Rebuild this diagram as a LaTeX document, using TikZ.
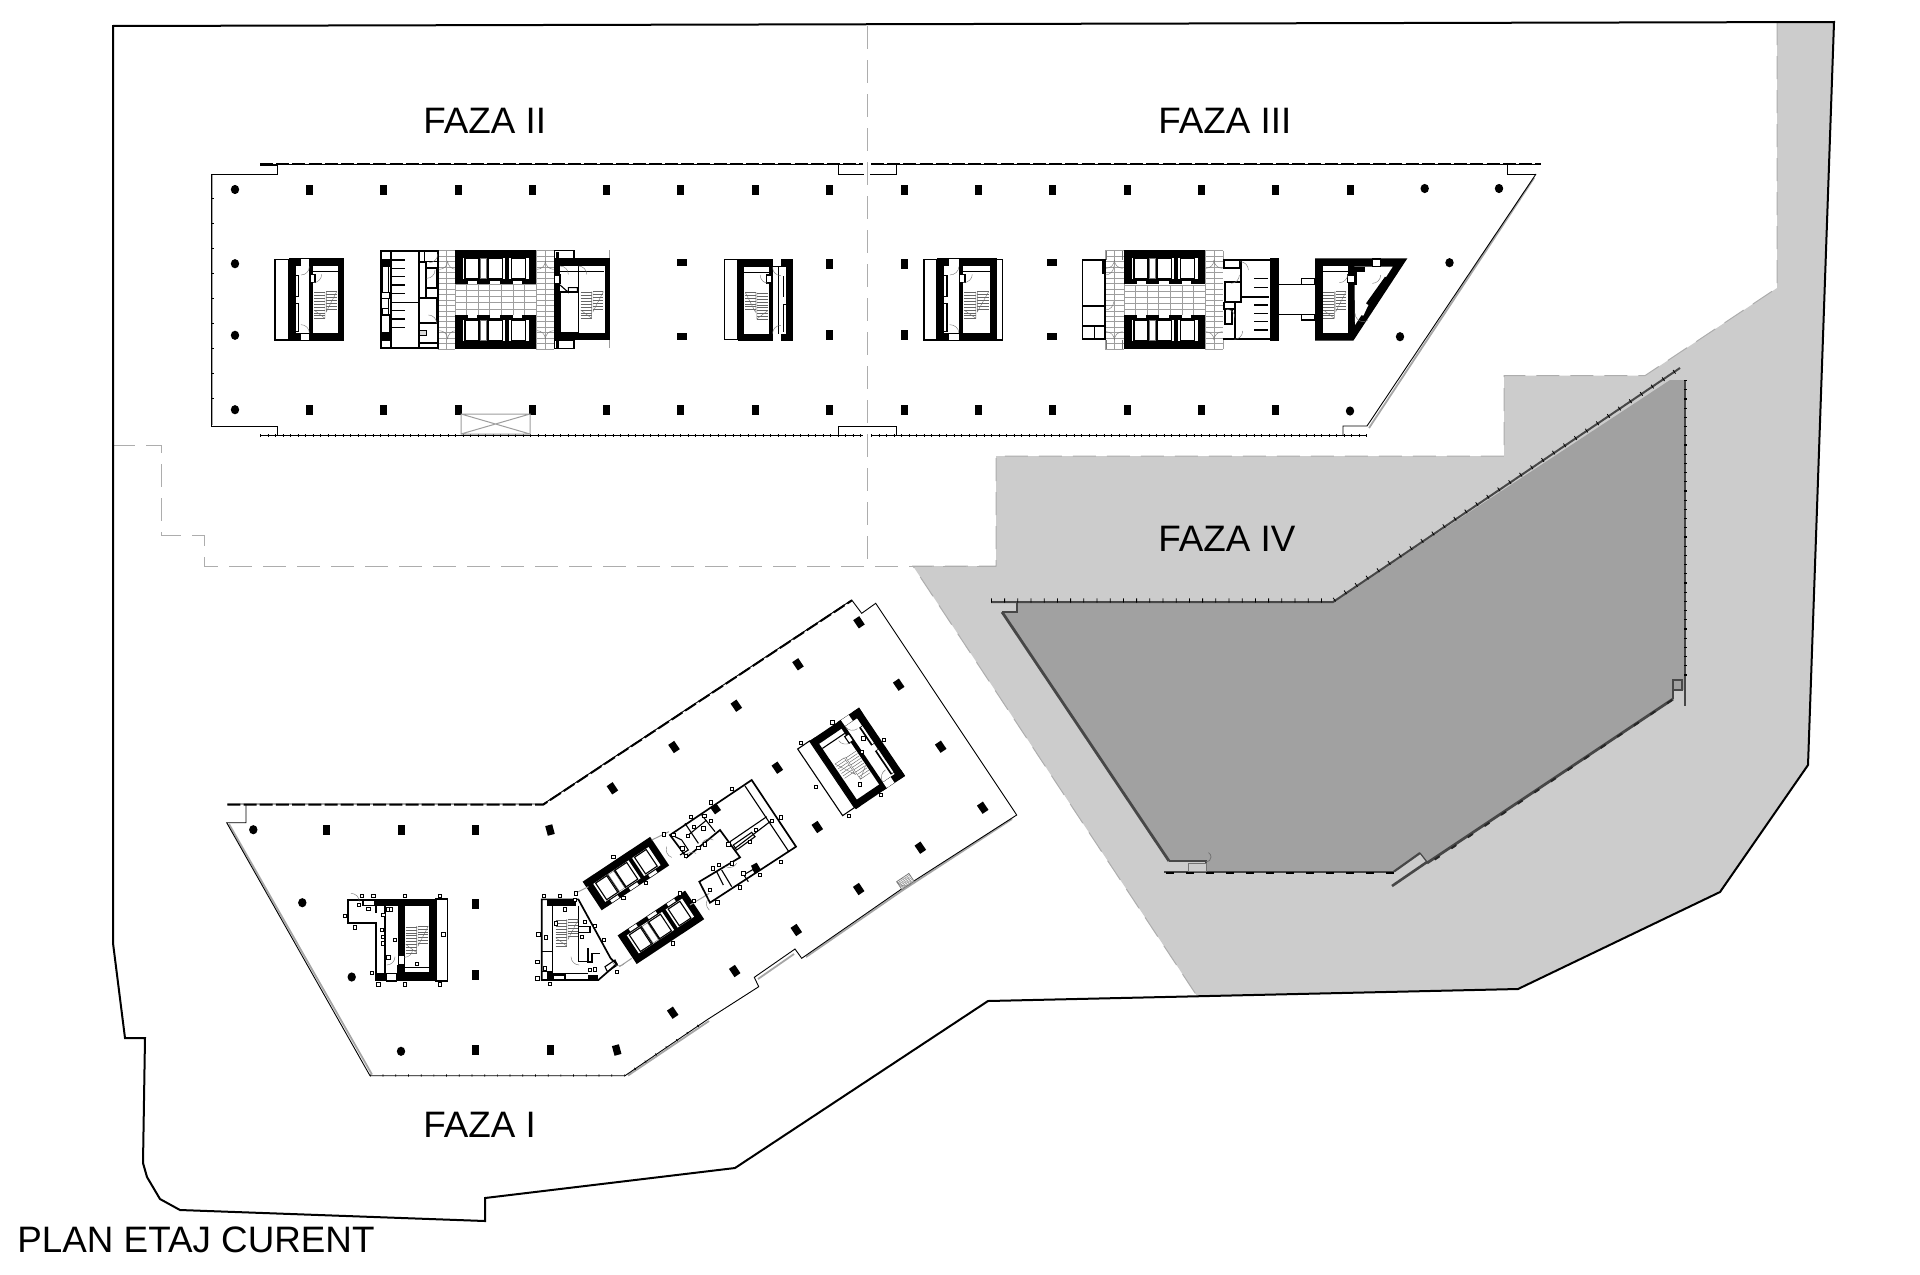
\documentclass[tikz,border=0pt]{standalone}
\usepackage{fontspec}
\setmainfont{Liberation Sans}
\definecolor{lightzone}{HTML}{CCCCCC}
\definecolor{darkzone}{HTML}{A1A1A1}
\definecolor{dashgrey}{HTML}{ADADAD}
\tikzset{
  zu/.style={x=.16667pt,y=-.16667pt},
  site/.style={draw=black,line width=1pt,line join=miter},
  zoneline/.style={draw=dashgrey,line width=.5pt,dash pattern=on 11.5pt off 5.5pt},
  shell/.style={draw=black,line width=.45pt},
  shellshadow/.style={draw=black!35,line width=.9pt},
  glazing/.style={draw=black,line width=1.1pt,dash pattern=on 6.5pt off 1.6pt},
  ticks/.style={draw=black,line width=1.7pt,dash pattern=on .35pt off 3.4pt},
  darkwall/.style={draw=black!72,line width=1.1pt},
  darkticks/.style={draw=black,line width=2pt,dash pattern=on .35pt off 8pt},
  wl/.style={draw=black,line width=.55pt},
  wlt/.style={draw=black,line width=.85pt},
  gl/.style={draw=black!38,line width=.28pt},
  door/.style={draw=black!55,line width=.2pt},
  tread/.style={draw=black!60,line width=.22pt},
  faza/.style={font=\fontsize{18.4pt}{20pt}\selectfont,inner sep=0pt,anchor=base west,text=black},
  tagbox/.style={draw=black,line width=.25pt,fill=white},
}
\newcommand{\blk}[4]{\fill[black] (#1,#2) rectangle (#3,#4);}
\newcommand{\wht}[4]{\fill[white] (#1,#2) rectangle (#3,#4);}
\newcommand{\rct}[4]{\draw[wl] (#1,#2) rectangle (#3,#4);}
\newcommand{\colR}[2]{\fill[black] (#1-3.5,#2-5) rectangle (#1+3.5,#2+5);}
\newcommand{\colS}[2]{\fill[black] (#1-5,#2-3.6) rectangle (#1+5,#2+3.6);}
\newcommand{\colC}[2]{\fill[black] (#1,#2) ellipse [x radius=4.2,y radius=4.6];}
\newcommand{\colT}[3]{\fill[black,shift={(#1,#2)},rotate=#3] (-3.6,-5) rectangle (3.6,5);}
\newcommand{\dr}[4]{\draw[door] (#1,#2) arc[start angle=#3,end angle=#4,radius=25];}
% stair flights, in core coordinates
\newcommand{\flights}{%
  \foreach \k in {0,...,9}{\pgfmathsetmacro\yy{103+\k*8.6}\draw[tread] (75,\yy)--(108,\yy);}
  \foreach \k in {0,...,6}{\pgfmathsetmacro\yy{100+\k*8.6}\draw[tread] (112,\yy)--(143,\yy);}
  \draw[door] (108,100)--(108,180)--(75,155);
  \draw[door] (112,100)--(112,160)--(143,100);
}
% stair core, 165 x 247 units, corridor at the low x side
\newcommand{\stcore}{%
  \blk{0}{0}{165}{23}\blk{0}{225}{165}{247}\blk{0}{0}{21}{247}\blk{148}{0}{165}{247}\blk{61}{0}{73}{247}
  \wht{35}{1}{61}{22}\wht{35}{226}{61}{246}
  \blk{21}{50}{31}{115}\blk{21}{135}{31}{220}
  \wht{21}{52}{26}{113}\wht{21}{137}{26}{218}
  \draw[wl] (73,40)--(148,40);
  \draw[wl,fill=white] (64,48) rectangle (78,72);
  \dr{61}{25}{0}{90}\dr{61}{224}{0}{-90}\dr{98}{48}{0}{90}
  \flights
}
% lift bank, 243 x 103 units, doors at the high y side
\newcommand{\liftbank}{%
  \blk{0}{0}{243}{103}
  \wht{23}{23}{150}{88}\wht{163}{23}{222}{88}
  \draw[wl] (30,25) rectangle (70,85);
  \draw[door] (76,25) rectangle (95,85);
  \draw[wl] (100,25) rectangle (142,85);
  \draw[wl] (170,25) rectangle (212,85);
  \blk{72}{23}{75}{88}\blk{96}{23}{99}{88}
  \wht{38}{92}{65}{101}\wht{105}{92}{135}{101}\wht{175}{92}{202}{101}
}
% grid of the lift lobby
\newcommand{\lobby}[8]{%
  \foreach \k in {0,...,18}{\pgfmathsetmacro\yy{#5+\k*16.4}\draw[gl] (#1,\yy)--(#2,\yy);\draw[gl] (#3,\yy)--(#4,\yy);}
  \foreach \k in {0,...,5}{\pgfmathsetmacro\yy{#6+\k*(#7-#6)/5}\draw[gl] (#2,\yy)--(#3,\yy);}
  \foreach \k in {1,...,6}{\pgfmathsetmacro\xx{#2+\k*(#3-#2)/7}\draw[gl] (\xx,#6)--(\xx,#7);}
  \foreach \xx in {#1,#2,#3,#4}{\draw[gl] (\xx,#5)--(\xx,#8);}
  \pgfmathsetmacro\xa{(#1+#2)/2}\pgfmathsetmacro\xb{(#3+#4)/2}
  \draw[gl] (\xa,#5)--(\xa,#8);\draw[gl] (\xb,#5)--(\xb,#8);
}
\begin{document}
\begin{tikzpicture}[x=.5pt,y=-.5pt]
\useasboundingbox (0,0) rectangle (1920,1274);
\fill[white] (0,0) rectangle (1920,1274);
% phase IV zones
\coordinate (s1) at (1834,22);\coordinate (s2) at (1808,765);\coordinate (s3) at (1720,892);\coordinate (s4) at (1518,989);\coordinate (s5) at (988,1001);
\coordinate (g1) at (1777,22);\coordinate (g2) at (1777,288);\coordinate (g3) at (1645,375.6);\coordinate (g4) at (1504,375.6);\coordinate (g5) at (1504,456);\coordinate (g6) at (996,456);\coordinate (g7) at (996,566);\coordinate (g8) at (913,566);\coordinate (g9) at (1197,996);
\fill[lightzone] (g1)--(s1)--(s2)--(s3)--(s4)--(g9)--(g8)--(g7)--(g6)--(g5)--(g4)--(g3)--(g2)--cycle;
\draw[zoneline] (g1)--(g2)--(g3)--(g4)--(g5)--(g6)--(g7)--(g8)--(g9);
\coordinate (d1) at (1002,612);\coordinate (d2) at (1017,612);\coordinate (d3) at (1017,602);\coordinate (d4) at (1333,602);\coordinate (d5) at (1670,380);\coordinate (d6) at (1685,380);\coordinate (d7) at (1685,690);\coordinate (d8) at (1673,690);\coordinate (d9) at (1673,699);\coordinate (d10) at (1427,863);\coordinate (d11) at (1420,853);\coordinate (d12) at (1394,871.5);\coordinate (d13) at (1206,871.5);\coordinate (d14) at (1206,861);\coordinate (d15) at (1169,861);
\fill[darkzone] (d1)--(d2)--(d3)--(d4)--(d5)--(d6)--(d7)--(d8)--(d9)--(d10)--(d11)--(d12)--(d13)--(d14)--(d15)--cycle;
\draw[darkwall] (d1)--(d2)--(d3);
\draw[darkwall,line width=1pt] (991,602)--(d4)--(1680,368);
\draw[darkticks,dash pattern=on .4pt off 6.2pt,line width=2.2pt] (991,600.5)--(1333,600.5)--(1678.5,369);
\draw[darkwall,line width=1pt] (1685,380)--(1685,706);
\draw[draw=black,line width=1.5pt,dash pattern=on .6pt off 4pt] (1685,380)--(1685,680);
\draw[darkwall] (1673,680) rectangle (1682,690);
\draw[darkwall] (1673,699)--(1673,690)--(1682,690);
\draw[darkwall,line width=1.4pt] (d1)--(d15);
\draw[darkwall] (d15)--(d14)--(1206,866);
\draw[darkwall,line width=1.4pt] (d9)--(d10);
\draw[draw=black!85,line width=1pt,dash pattern=on 3pt off 7pt] (1672,700)--(1428,864);
\draw[darkwall,line width=1.3pt] (1392,886)--(1427,862);
\draw[darkwall] (1394,871.5)--(1420,853);
\draw[darkwall,line width=.6pt] (1420,853)--(1427,862);
\draw[darkwall,line width=1.4pt] (1164,872)--(1394,872);
\draw[draw=black,line width=1.4pt,dash pattern=on 4pt off 6pt] (1166,873)--(1394,873);
\draw[door,line width=.5pt,fill=lightzone] (1188.5,863) rectangle (1206,871);
\draw[door,line width=.4pt] (1206,862) arc[start angle=90,end angle=-60,radius=5];
% phases divider and FAZA II dashed limit
\coordinate (v1) at (867.5,26);\coordinate (v2) at (867.5,566);
\draw[zoneline] (v1)--(v2);
\coordinate (w1) at (112,445);\coordinate (w2) at (161,445);\coordinate (w3) at (161,535);\coordinate (w4) at (204,535);\coordinate (w5) at (204,566);
\draw[zoneline] (w1)--(w2)--(w3)--(w4)--(w5)--(g7);
% site outline
\draw[site] (s1)--(s2)--(s3)--(s4)--(s5)--(735,1168)--(485,1198)--(485,1221)--(180,1210)--(160,1199)--(147,1177)--(143,1163)--(145,1038)--(125,1038)--(113,943)--(113,26)--cycle;
% ---------- FAZA II / III shell ----------
\draw[shellshadow] (212,175)--(212,425);
\draw[shell] (260,165)--(277,165);
\draw[shell] (277,165)--(277,174)--(211,174)--(211,426)--(277,426)--(277,435);
\foreach \yy in {198,223,248,273,298,323,348,373,398}{\draw[line width=.5pt] (211,\yy)--(214,\yy);}
\draw[shell] (260,164.3)--(863,164.3) (871,164.3)--(1541,164.3);
\draw[glazing] (260,164.3)--(863,164.3) (871,164.3)--(1541,164.3);
\draw[shell] (260,435.3)--(863,435.3) (871,435.3)--(1367,435.3);
\draw[ticks] (260,435.3)--(863,435.3) (871,435.3)--(1367,435.3);
\draw[shell] (838,165)--(838,174)--(864,174) (870,174)--(896,174)--(896,165);
\draw[shell] (838,435)--(838,426)--(896,426)--(896,435);
\draw[shell] (1507,165)--(1507,174)--(1536,174);
\draw[shellshadow] (1534,178)--(1369,428);
\draw[shell] (1536,174)--(1367,426)--(1343,426)--(1343,435);
% columns
\foreach \xx in {309.4,383.5,458,532.6,606.7,680.8,755,829.5,904,978.5,1052.8,1127,1201.6,1275.5,1350}{\colR{\xx}{189.7}}
\foreach \xx in {309.4,383.5,458,532.6,606.7,680.8,755,829.5,904,978.5,1052.8,1127,1201.6,1275.5}{\colR{\xx}{409.7}}
\colC{235}{189.5}\colC{235}{263.7}\colC{235}{335.3}\colC{235}{409.7}
\colC{1424.7}{188.5}\colC{1499}{188.5}\colC{1449.5}{262.7}\colC{1400}{336.7}\colC{1350}{411}
\colS{682}{262.7}\colS{682}{336.7}\colS{1051.5}{262.7}\colS{1051.5}{336.7}
\colR{829.5}{264}\colR{829.5}{335}\colR{904}{263.7}\colR{904}{335}
% void
\draw[gl,line width=.5pt] (461,414) rectangle (530,434) (461,414)--(530,434) (461,434)--(530,414);
% ---------- FAZA II cores (3x crop units) ----------
\begin{scope}[shift={(270,245)},zu]
  \rct{15}{43}{57}{285}
  \begin{scope}[shift={(57,40)}]\stcore\end{scope}
  % central core
  \lobby{503}{555}{798}{853}{17}{118}{210}{312}
  \dr{533}{48}{180}{90}\dr{533}{48}{0}{90}
  \dr{533}{282}{180}{270}\dr{533}{282}{0}{-90}
  \dr{826}{48}{180}{90}\dr{826}{48}{0}{90}
  \dr{826}{282}{180}{270}\dr{826}{282}{0}{-90}
  \begin{scope}[shift={(555,15)}]\liftbank\end{scope}
  \begin{scope}[shift={(555,312)},yscale=-1]\liftbank\end{scope}
  \fill[white] (333,17) rectangle (503,310);
  \draw[wlt] (333,17) rectangle (503,310);
  \draw[wl] (363,17)--(363,310);
  \blk{333}{42}{360}{65}\blk{333}{265}{360}{287}
  \rct{338}{65}{355}{142}\rct{333}{142}{360}{160}\rct{333}{160}{355}{190}\rct{338}{190}{355}{210}\rct{333}{210}{360}{262}
  \foreach \yy in {45,70,95,120,145,197,222,247}{\draw[wl] (363,\yy)--(405,\yy);}
  \draw[wl] (363,172)--(447,172);
  \draw[wl] (447,17)--(447,157);
  \draw[wlt] (447,52)--(468,52) (468,52)--(468,128) (468,70)--(500,70)--(500,128)--(468,128)--(468,157);
  \rct{463}{17}{503}{50}
  \dr{503}{28}{0}{90}\dr{495}{75}{0}{90}
  \draw[wlt] (447,160) rectangle (500,233);
  \draw[draw=black,line width=.3pt,fill=black!15] (447,255) rectangle (470,270);
  \dr{500}{235}{0}{-90}
  \rct{447}{293}{503}{310}\draw[wlt] (447,295)--(503,295);
  \draw[wl] (447,233)--(447,310);
  % east core
  \rct{853}{17}{912}{40}\rct{853}{285}{912}{310}
  \blk{858}{20}{868}{40}\blk{858}{288}{868}{308}
  \draw[gl,line width=.5pt] (1018,15)--(1018,310);
  \blk{853}{40}{1020}{63}\blk{853}{265}{1020}{285}\blk{853}{40}{870}{285}\blk{1005}{40}{1020}{285}
  \draw[wl] (870,80)--(1003,80);\draw[wl] (925,63)--(925,265);
  \draw[wlt] (870,142) rectangle (925,265);
  \draw[wl,fill=white] (853,90) rectangle (870,115);
  \draw[wl] (870,120)--(895,142)--(895,128)--(922,128)--(922,142);
  \dr{895}{88}{0}{-90}\dr{950}{88}{0}{-90}
  \begin{scope}[shift={(857,40)}]\flights\end{scope}
\end{scope}
% FAZA II east core (same scale, placed directly)
\begin{scope}[shift={(724.5,259.3)},zu]
  \rct{0}{0}{40}{240}\rct{161}{0}{205}{240}
  \begin{scope}[shift={(205,-1)},xscale=-1]\stcore\end{scope}
\end{scope}
% ---------- FAZA III cores ----------
\begin{scope}[shift={(920,245)},zu]
  \rct{12}{43}{50}{285}\rct{230}{43}{247}{285}
  \begin{scope}[shift={(50,40)},xscale=1.09]\stcore\end{scope}
  \lobby{555}{612}{855}{910}{17}{120}{210}{312}
  \dr{583}{45}{180}{90}\dr{583}{45}{0}{90}\dr{583}{285}{180}{270}\dr{583}{285}{0}{-90}
  \dr{882}{45}{180}{90}\dr{882}{45}{0}{90}\dr{882}{285}{180}{270}\dr{882}{285}{0}{-90}
  \draw[door] (558,17)--(558,45) (608,17)--(608,45) (558,285)--(558,312) (608,285)--(608,312);
  \begin{scope}[shift={(612,15)}]\liftbank\end{scope}
  \begin{scope}[shift={(612,312)},yscale=-1]\liftbank\end{scope}
  \draw[wlt,fill=white] (487,45) rectangle (555,283);
  \draw[wl] (490,183)--(555,183) (490,243)--(555,243) (523,243)--(523,283);
  \draw[wlt] (548,50) rectangle (555,85);
  \dr{556}{90}{90}{0}\dr{556}{195}{90}{0}
  % east service
  \fill[white] (910,45) rectangle (1050,283);
  \draw[wlt] (910,45)--(1050,45) (910,283)--(1050,283);
  \blk{1050}{40}{1078}{287}
  \draw[draw=white,line width=.5pt] (1047,60)--(1047,270);
  \draw[wlt] (912,45)--(912,68)--(960,68)--(960,45);
  \draw[wlt,fill=white] (915,112) rectangle (962,172);
  \draw[wlt] (962,45)--(962,155)--(1048,155) (945,178)--(945,283);
  \rct{912}{172}{945}{192}\draw[wlt] (915,192) rectangle (935,238);
  \foreach \yy in {100,128,180,205,230,255}{\draw[wl] (1003,\yy)--(1045,\yy);}
  \dr{958}{90}{0}{90}\dr{985}{75}{0}{-90}\dr{968}{258}{0}{90}\dr{945}{218}{0}{-90}
  % bridge
  \draw[wl] (1078,118)--(1185,118) (1078,208)--(1185,208);
  \rct{1145}{100}{1185}{118}\rct{1145}{208}{1185}{225}
  % triangular core
  \fill[black] (1185,40)--(1462,40)--(1300,287)--(1185,287)--cycle;
  \wht{1208}{63}{1283}{265}
  \draw[wl] (1208,80)--(1283,80);
  \begin{scope}[shift={(1135,40)}]\flights\end{scope}
  \fill[white] (1303,65)--(1418,65)--(1305,240)--cycle;
  \blk{1303}{65}{1335}{82}
  \fill[black] (1395,95)--(1402,100)--(1345,180)--(1338,175)--cycle;
  \fill[white] (1385,92)--(1392,97)--(1335,172)--(1332,165)--cycle;
  \draw[wl,fill=white] (1358,42) rectangle (1382,64);
  \draw[wl,fill=white] (1283,90) rectangle (1303,112);
  \fill[black] (1303,82) rectangle (1310,120);
  \fill[white] (1310,180)--(1345,180)--(1330,212)--(1305,205)--cycle;
  \draw[door] (1305,205) arc[start angle=180,end angle=60,radius=25];
  \dr{1283}{88}{0}{90}\dr{1382}{90}{0}{90}
\end{scope}
% ---------- FAZA I ----------
\draw[shellshadow] (372,1074.5)--(229,824) (628,1075.5)--(709,1021) (758,979)--(794,954) (806,957)--(903,890)--(1012,819);
\draw[shell] (227.3,804)--(543.3,804)--(851.7,600)--(861.7,613.3)--(875.7,603.3)--(1016.7,815)--(903,888)--(801.7,958.3)--(795,949)--(754.3,977.3)--(758.7,986.7)--(706.7,1020)--(625,1075.7)--(370,1075.7)--(226.7,822.7)--(246,822.7)--(246,805);
\draw[glazing,line width=1pt] (227.3,804.5)--(543.3,804.5)--(851.7,600.5);
\draw[ticks,line width=1.2pt,dash pattern=on .35pt off 6pt] (370,1075.5)--(625,1075.5)--(706.7,1020);
% columns
\colC{253.3}{829.7}\colC{302.3}{902.7}\colC{351.7}{977}\colC{401}{1051.3}
\foreach \xx/\yy in {326.7/830,401.3/830,475.7/830,475.7/904,475.7/975.3,475.7/1050,550/1050}{\colR{\xx}{\yy}}
\colT{550}{830}{15}\colT{616.7}{1050}{15}
\foreach \xx/\yy in {612.4/788.3,674/747,736.3/705.7,798/664.3,859/622.3,898.7/684.7,940.7/746.7,982.7/807.7,920.3/847.7,858.7/889,796.3/930,734.7/971,672.7/1012.7,777.3/767.7,817.3/827}{\colT{\xx}{\yy}{34}}
% west core of FAZA I, 3x crop units of the region starting at (220,600)
\begin{scope}[shift={(220,600)},zu]
  \rct{648}{897}{683}{1143}
  \blk{465}{897}{648}{918}\blk{628}{897}{648}{1143}\blk{530}{1120}{648}{1143}\blk{533}{918}{555}{1065}\blk{530}{1095}{555}{1143}
  \blk{465}{1120}{500}{1143}\blk{465}{918}{471}{940}\blk{465}{965}{471}{1120}
  \draw[wlt] (555,1102)--(628,1102);\draw[wl] (555,1118)--(628,1118);
  \draw[wl] (495,918)--(495,1120);
  \draw[wl] (535,1065) rectangle (553,1095);
  \dr{553}{1072}{90}{0}\dr{500}{1095}{90}{0}
  \rct{500}{1120}{530}{1143}
  \draw[wlt] (465,900)--(385,900)--(385,968)--(465,968);
  \draw[wlt] (428,900) rectangle (465,916);
  \dr{418}{905}{0}{-90}
  \begin{scope}[shift={(482,878)}]\flights\end{scope}
  \foreach \xx/\yy in {425/887,460/887,555/887,660/887,375/948,405/982,525/1020,505/1072,455/1118,475/1153,555/1153,660/1153,670/1003,590/1092,445/927,417/914,505/928,513/928,490/945,485/990,488/1010,488/1030}{\draw[tagbox] (\xx-5,\yy-5) rectangle (\xx+5,\yy+5);}
\end{scope}
% 3x crop units of the region starting at (520,600)
\begin{scope}[shift={(520,600)},zu]
  % triangular stair core
  \draw[wlt] (65,898)--(175,898)--(272,1075)--(290,1092)--(235,1140)--(65,1140)--cycle;
  \blk{80}{900}{168}{917}
  \draw[wl] (97,917)--(97,1120)--(205,1120);
  \rct{65}{1055}{97}{1115}
  \blk{80}{1113}{100}{1140}
  \draw[wl] (175,917)--(175,1085)--(205,1085);
  \rct{175}{980}{210}{998}
  \draw[wlt] (205,1045)--(205,1085)--(215,1085)--(215,1060)--(240,1060);
  \fill[black] (205,1125) rectangle (233,1140);
  \rct{100}{1125}{135}{1140}
  \draw[wl] (255,1100) -- (285,1080) -- (292,1095) -- (262,1115) -- cycle;
  \dr{178}{1095}{90}{180}\dr{275}{1085}{150}{40}
  \begin{scope}[shift={(32,858)}]\flights\end{scope}
  % lift banks
  \begin{scope}[shift={(188,845)},rotate=33.6]\liftbank\end{scope}
  \begin{scope}[shift={(350,1092)},rotate=33.6,yscale=-1]\liftbank\end{scope}
  % corridor lines
  \draw[gl,line width=.5pt] (165,880)--(205,860) (298,1100)--(335,1075);
  \draw[gl,line width=.5pt] (395,720)--(447,695) (510,915)--(568,880);
  % central service block
  \draw[wlt] (450,705)--(695,540)--(828,740)--(570,908)--(538,845)--(660,772)--(600,690)--(500,772)--cycle;
  \draw[wl] (675,558)--(805,753);
  \draw[wl] (630,725)--(740,650) (645,745)--(750,665);
  \draw[wl] (640,735)--(695,697)--(705,710)--(650,750)--cycle;
  \fill[black] (572,625)--(590,612)--(603,630)--(585,643)--cycle;
  \fill[black] (693,797)--(710,788)--(722,808)--(703,820)--cycle;
  \draw[wl] (495,670)--(535,730) (545,645)--(585,695) (505,705)--(560,660) (465,710)--(485,720)--(505,750)--(480,765);
  \draw[wl] (590,815)--(610,855) (605,810)--(635,860) (665,815)--(685,845) (670,825)--(705,805);
  \dr{580}{720}{-60}{-150}\dr{528}{760}{-60}{-150}\dr{650}{790}{30}{120}\dr{565}{895}{220}{130}\dr{440}{740}{200}{110}
  % NE stair core
  \begin{scope}[shift={(833,447)},rotate=34]
    \rct{0}{0}{43}{241}
    \begin{scope}[shift={(222,0)},xscale=-1.08]\stcore\end{scope}
  \end{scope}
  % small door in the facade
  \begin{scope}[shift={(1130,845)},rotate=34]
    \draw[door,fill=white,line width=.4pt] (0,0) rectangle (44,28);
    \foreach \k in {1,...,5}{\draw[gl] (\k*7,0)--(\k*7,28);\draw[gl] (0,\k*5)--(44,\k*5);}
    \draw[door] (0,0) arc[start angle=180,end angle=90,radius=30];
  \end{scope}
  \foreach \xx/\yy in {72/887,120/887,168/880,165/900,135/928,108/970,78/1012,55/1003,52/1085,52/1135,90/1152,185/1010,195/965,225/977,252/1020,75/1105,280/770,310/893,378/848,458/1030,522/902,432/703,460/705,512/650,553/648,573/607,635/567,573/662,550/685,522/680,503/708,487/745,498/768,535/743,555/733,625/733,690/725,708/690,755/662,782/652,782/785,720/825,670/820,660/862,635/790,597/795,578/805,570/870,592/907,480/880,888/560,937/367,842/428,987/648,1025/455,1030/415,1092/420,1020/553,1082/585,210/1110,225/1108,290/1115}{\draw[tagbox] (\xx-5,\yy-5) rectangle (\xx+5,\yy+5);}
\end{scope}
% labels
\node[faza] (f2) at (423,133.5) {FAZA II};
\node[faza] (f3) at (1158,133.5) {FAZA III};
\node[faza] (f4) at (1158,551) {FAZA IV};
\node[faza] (f1) at (423,1137.5) {FAZA I};
\node[faza] (title) at (17,1252) {PLAN ETAJ CURENT};
\end{tikzpicture}
\end{document}
